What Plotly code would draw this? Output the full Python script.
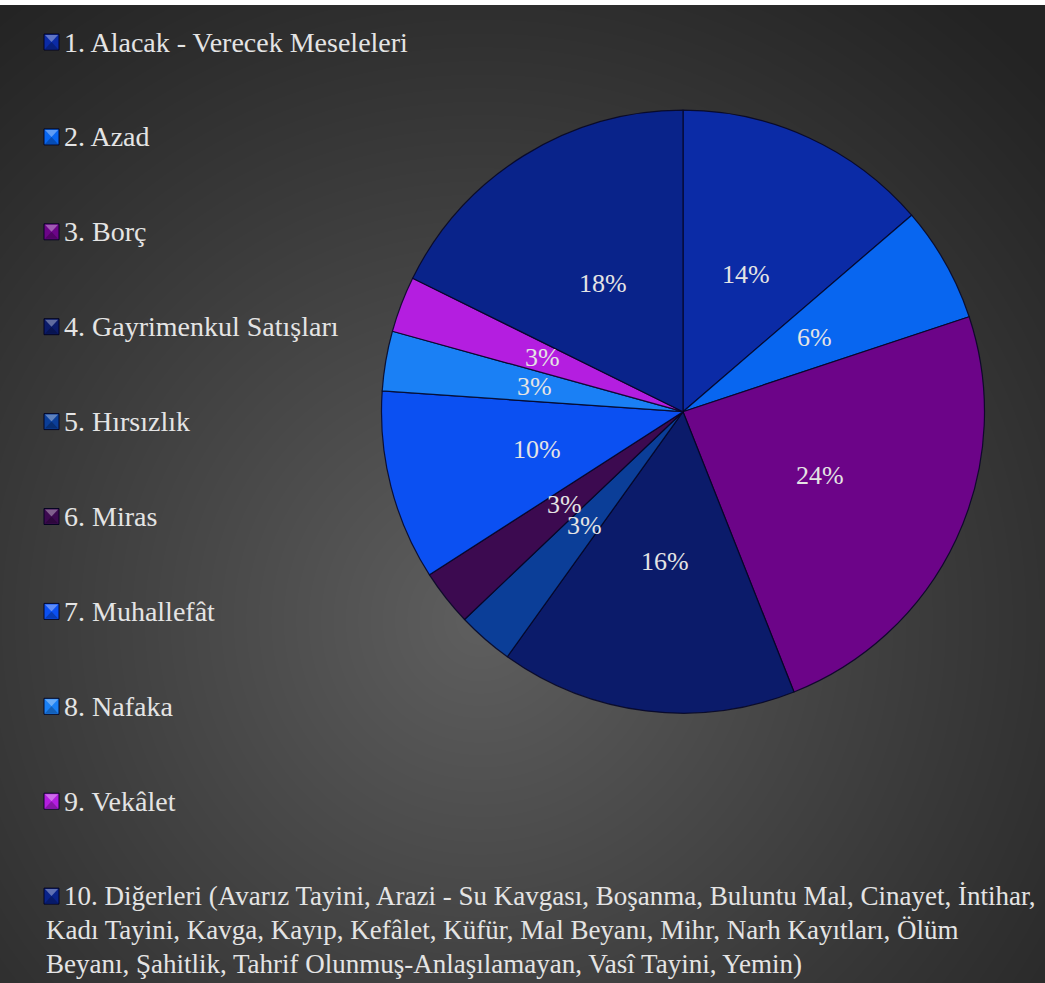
import base64
import struct
import zlib

import numpy as np
import plotly.graph_objects as go

# ---------------- data ----------------
categories = [
    "1. Alacak - Verecek Meseleleri",
    "2. Azad",
    "3. Borç",
    "4. Gayrimenkul Satışları",
    "5. Hırsızlık",
    "6. Miras",
    "7. Muhallefât",
    "8. Nafaka",
    "9. Vekâlet",
    "10. Diğerleri (Avarız Tayini, Arazi - Su Kavgası, Boşanma, Buluntu Mal, Cinayet, İntihar, "
    "Kadı Tayini, Kavga, Kayıp, Kefâlet, Küfür, Mal Beyanı, Mihr, Narh Kayıtları, Ölüm "
    "Beyanı, Şahitlik, Tahrif Olunmuş-Anlaşılamayan, Vasî Tayini, Yemin)",
]
shares = [13.7, 6.2, 24.1, 15.9, 3.0, 3.0, 10.2, 3.2, 3.0, 17.7]
colors = ["#0b2ba6", "#0866f0", "#6c0488", "#0b1b6a", "#0b3e98",
          "#3c0a50", "#0b50f2", "#1a80f5", "#b41ee0", "#09238a"]
# words after which the long legend entry wraps
wrap_after = ["İntihar,", "Ölüm"]

# ---------------- layout constants ----------------
W, H = 1045, 983
TOP_STRIP = 5
CX, CY, R = 683.0, 411.7, 301.5          # pie centre / radius in px (from top)
LEG_Y0, LEG_DY = 42.0, 94.9
LEG_MX, LEG_TX = 51.5, 62.0
FONT = "Times New Roman"
TXT = "#e4e4e4"


def px(x):
    return x / W


def py(y):
    return 1 - y / H


def mix(hexcol, target, t):
    r, g, b = (int(hexcol[k:k + 2], 16) for k in (1, 3, 5))
    r, g, b = (round(c + (target - c) * t) for c in (r, g, b))
    return f"rgb({r},{g},{b})"


def png_uri(gray):
    h, w = gray.shape
    raw = b"".join(b"\x00" + gray[r].tobytes() for r in range(h))

    def chunk(t, d):
        c = struct.pack(">I", len(d)) + t + d
        return c + struct.pack(">I", zlib.crc32(t + d) & 0xFFFFFFFF)

    png = (b"\x89PNG\r\n\x1a\n"
           + chunk(b"IHDR", struct.pack(">IIBBBBB", w, h, 8, 0, 0, 0, 0))
           + chunk(b"IDAT", zlib.compress(raw, 9))
           + chunk(b"IEND", b""))
    return "data:image/png;base64," + base64.b64encode(png).decode()


# radial dark-gray background
bh = H - TOP_STRIP
yy, xx = np.mgrid[0:bh, 0:W].astype(float)
d = np.hypot(xx - 480, (yy + TOP_STRIP) - 620)
g = 35 + 60 * np.clip(1 - d / 800, 0, 1) ** 1.1
bg = np.clip(g, 0, 255).astype(np.uint8)

fig = go.Figure()
fig.add_trace(go.Pie(
    labels=categories,
    values=shares,
    sort=False,
    direction="clockwise",
    rotation=0,
    marker=dict(colors=colors, line=dict(color="rgba(5,5,35,0.85)", width=1.2)),
    textinfo="none",
    hoverinfo="label+percent",
    domain=dict(x=[px(CX - R), px(CX + R)], y=[py(CY + R), py(CY - R)]),
    showlegend=False,
))

annotations = []
shapes = []

# percentage labels at half radius, horizontal
total = sum(shares)
cum = 0.0
for v in shares:
    mid = (cum + v / 2) / total * 2 * np.pi
    cum += v
    lx = CX + 0.5 * R * np.sin(mid)
    ly = CY - 0.5 * R * np.cos(mid)
    annotations.append(dict(
        x=px(lx), y=py(ly), xref="paper", yref="paper",
        text=f"{round(v / total * 100):.0f}%", showarrow=False,
        font=dict(family=FONT, size=26, color=TXT),
        xanchor="center", yanchor="middle"))

# custom legend with bevelled square markers
for i, (lab, col) in enumerate(zip(categories, colors)):
    yc = LEG_Y0 + LEG_DY * i
    x0, x1 = LEG_MX - 7.5, LEG_MX + 7.5
    y0, y1 = yc - 8, yc + 8
    shapes.append(dict(
        type="rect", xref="paper", yref="paper",
        x0=px(x0), x1=px(x1), y0=py(y1), y1=py(y0),
        fillcolor=col, line=dict(color="rgba(0,0,30,0.9)", width=1)))
    # lighter top facet, darker bottom facet
    shapes.append(dict(
        type="path", xref="paper", yref="paper",
        path=f"M {px(x0 + 1)} {py(y0 + 1)} L {px(x1 - 1)} {py(y0 + 1)} "
             f"L {px(LEG_MX)} {py(yc)} Z",
        fillcolor=mix(col, 255, 0.35), line=dict(width=0)))
    shapes.append(dict(
        type="path", xref="paper", yref="paper",
        path=f"M {px(x0 + 1)} {py(y1 - 1)} L {px(x1 - 1)} {py(y1 - 1)} "
             f"L {px(LEG_MX)} {py(yc)} Z",
        fillcolor=mix(col, 0, 0.25), line=dict(width=0)))
    lines = [lab]
    for w in wrap_after:
        last = lines[-1]
        if (w + " ") in last:
            k = last.index(w + " ") + len(w)
            lines[-1] = last[:k]
            lines.append(last[k + 1:])
    fs = 28 if len(lines) == 1 else 27
    annotations.append(dict(
        x=px(LEG_TX), y=py(yc), xref="paper", yref="paper",
        text=lines[0], showarrow=False,
        font=dict(family=FONT, size=fs, color=TXT),
        xanchor="left", yanchor="middle"))
    for j, ln in enumerate(lines[1:], start=1):
        annotations.append(dict(
            x=px(LEG_MX - 8), y=py(yc + 34 * j), xref="paper", yref="paper",
            text=ln, showarrow=False,
            font=dict(family=FONT, size=fs, color=TXT),
            xanchor="left", yanchor="middle"))

fig.update_layout(
    width=W, height=H,
    margin=dict(l=0, r=0, t=0, b=0),
    paper_bgcolor="white",
    plot_bgcolor="white",
    font=dict(family=FONT),
    images=[dict(source=png_uri(bg), xref="paper", yref="paper",
                 x=0, y=py(TOP_STRIP), sizex=1, sizey=bh / H,
                 xanchor="left", yanchor="top", sizing="stretch", layer="below")],
    shapes=shapes,
    annotations=annotations,
)

fig.write_html("out.html",
               config={"displayModeBar": False},
               post_script="document.body.style.margin='0';"
                           "document.body.style.overflow='hidden';")
